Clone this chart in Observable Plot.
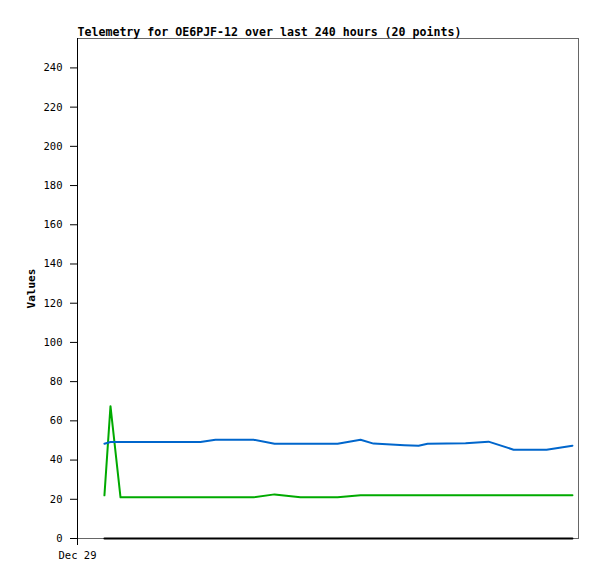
<!DOCTYPE html>
<html>
<head>
<meta charset="utf-8">
<script src="https://cdn.jsdelivr.net/npm/d3@7"></script>
<script src="https://cdn.jsdelivr.net/npm/@observablehq/plot@0.6"></script>
<style>
  html, body { margin: 0; padding: 0; background: #fff; }
</style>
</head>
<body>
<div id="chart"></div>
<script>
const title = "Telemetry for OE6PJF-12 over last 240 hours (20 points)";
const yLabel = "Values";
const xTickLabel = "Dec 29";
// hours since Dec 29 00:00
const hours = [12.9, 15.8, 20.6, 35.0, 58.9, 66.1, 84.3, 94.4, 106.8, 124.6, 135.6, 141.8, 156.6, 163.4, 167.7, 185.9, 196.9, 208.9, 224.7, 237.1];
const blueValues = [48.3, 49.2, 49.2, 49.2, 49.2, 50.4, 50.4, 48.3, 48.3, 48.3, 50.4, 48.4, 47.6, 47.3, 48.3, 48.6, 49.4, 45.3, 45.3, 47.3];
const greenValues = [22, 67.5, 21, 21, 21, 21, 21, 22.5, 21, 21, 22, 22, 22, 22, 22, 22, 22, 22, 22, 22];
const blackValues = [0, 0, 0, 0, 0, 0, 0, 0, 0, 0, 0, 0, 0, 0, 0, 0, 0, 0, 0, 0];
const yTicks = [0, 20, 40, 60, 80, 100, 120, 140, 160, 180, 200, 220, 240];

const mk = (vals) => hours.map((h, i) => ({h, v: vals[i]}));
const font = "'DejaVu Sans Mono', monospace";

const chart = Plot.plot({
  width: 597,
  height: 579,
  marginLeft: 77,
  marginRight: 19,
  marginTop: 38,
  marginBottom: 41,
  style: {fontFamily: font, fontSize: "10px", background: "#fff", color: "#000"},
  x: {domain: [0, 240]},
  y: {domain: [0, 255]},
  marks: [
    Plot.frame({stroke: "#666", strokeWidth: 1}),
    Plot.axisY({ticks: yTicks, tickSize: 7, tickPadding: 8, label: yLabel, labelAnchor: "center", labelArrow: "none", labelOffset: 50, fontSize: 10.5}),
    Plot.axisX({ticks: [0], tickFormat: () => xTickLabel, tickSize: 7, tickPadding: 6, label: null, fontSize: 10.5}),
    Plot.ruleX([0], {stroke: "#000"}),
    Plot.line(mk(blackValues), {x: "h", y: "v", stroke: "#000", strokeWidth: 2}),
    Plot.line(mk(greenValues), {x: "h", y: "v", stroke: "#00aa00", strokeWidth: 2}),
    Plot.line(mk(blueValues), {x: "h", y: "v", stroke: "#0066cc", strokeWidth: 2}),
    Plot.text([title], {frameAnchor: "top-left", dy: -3, textAnchor: "start", lineAnchor: "bottom", fontWeight: "bold", fontSize: 11.6, fill: "#000"})
  ]
});
document.getElementById("chart").appendChild(chart);
// bold y label
chart.querySelectorAll("g[aria-label='y-axis label'] text").forEach(t => { t.setAttribute("font-weight", "bold"); t.setAttribute("font-size", "11"); });
</script>
</body>
</html>
